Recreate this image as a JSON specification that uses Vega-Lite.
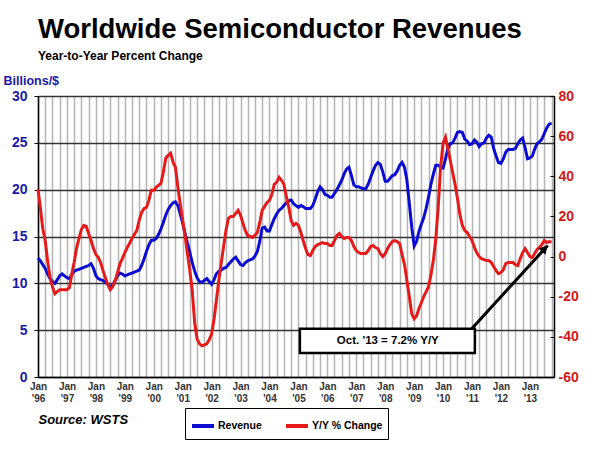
{
"$schema":"https://vega.github.io/schema/vega-lite/v6.json",
"width":516,"height":281,
"autosize":{"type":"none"},
"padding":{"left":38,"top":96,"right":46,"bottom":75},
"background":"white",
"config":{"font":"Liberation Sans","view":{"stroke":"black","strokeWidth":1}},
"title":{"text":"Worldwide Semiconductor Revenues","subtitle":"Year-to-Year Percent Change","anchor":"start","frame":"group","fontSize":27.5,"fontWeight":"bold","color":"black","subtitleFontSize":12,"subtitleFontWeight":"bold","subtitleColor":"black","subtitlePadding":8,"offset":12},
"datasets":{
"sales":[
{"d":"1996-01-01","rev":12.7,"yoy":33.5},{"d":"1996-02-01","rev":12.4,"yoy":24},{"d":"1996-03-01","rev":12.0,"yoy":14},{"d":"1996-04-01","rev":11.6,"yoy":8},{"d":"1996-05-01","rev":11.0,"yoy":-2},{"d":"1996-06-01","rev":10.5,"yoy":-10.5},{"d":"1996-07-01","rev":10.2,"yoy":-15},{"d":"1996-08-01","rev":10.0,"yoy":-18.5},{"d":"1996-09-01","rev":10.4,"yoy":-17.5},{"d":"1996-10-01","rev":10.8,"yoy":-16.5},{"d":"1996-11-01","rev":11.0,"yoy":-16.5},{"d":"1996-12-01","rev":10.8,"yoy":-16.5},
{"d":"1997-01-01","rev":10.6,"yoy":-16.5},{"d":"1997-02-01","rev":10.5,"yoy":-15.5},{"d":"1997-03-01","rev":10.9,"yoy":-9},{"d":"1997-04-01","rev":11.3,"yoy":-3},{"d":"1997-05-01","rev":11.4,"yoy":4},{"d":"1997-06-01","rev":11.5,"yoy":9},{"d":"1997-07-01","rev":11.6,"yoy":13.5},{"d":"1997-08-01","rev":11.7,"yoy":15.5},{"d":"1997-09-01","rev":11.8,"yoy":15},{"d":"1997-10-01","rev":11.9,"yoy":11.5},{"d":"1997-11-01","rev":12.1,"yoy":8},{"d":"1997-12-01","rev":11.6,"yoy":4},
{"d":"1998-01-01","rev":10.8,"yoy":1},{"d":"1998-02-01","rev":10.5,"yoy":-0.5},{"d":"1998-03-01","rev":10.4,"yoy":-3},{"d":"1998-04-01","rev":10.3,"yoy":-7},{"d":"1998-05-01","rev":10.1,"yoy":-10.5},{"d":"1998-06-01","rev":9.9,"yoy":-14},{"d":"1998-07-01","rev":9.6,"yoy":-16.5},{"d":"1998-08-01","rev":9.8,"yoy":-15},{"d":"1998-09-01","rev":10.3,"yoy":-12},{"d":"1998-10-01","rev":10.8,"yoy":-8},{"d":"1998-11-01","rev":11.1,"yoy":-3.5},{"d":"1998-12-01","rev":11.0,"yoy":-1},
{"d":"1999-01-01","rev":10.8,"yoy":2},{"d":"1999-02-01","rev":10.9,"yoy":4.5},{"d":"1999-03-01","rev":11.0,"yoy":6.5},{"d":"1999-04-01","rev":11.1,"yoy":9},{"d":"1999-05-01","rev":11.2,"yoy":11},{"d":"1999-06-01","rev":11.3,"yoy":13},{"d":"1999-07-01","rev":11.4,"yoy":18},{"d":"1999-08-01","rev":11.9,"yoy":22},{"d":"1999-09-01","rev":12.6,"yoy":24},{"d":"1999-10-01","rev":13.4,"yoy":24.5},{"d":"1999-11-01","rev":14.1,"yoy":28},{"d":"1999-12-01","rev":14.6,"yoy":33},
{"d":"2000-01-01","rev":14.6,"yoy":33},{"d":"2000-02-01","rev":14.8,"yoy":34.5},{"d":"2000-03-01","rev":15.2,"yoy":35.5},{"d":"2000-04-01","rev":15.8,"yoy":36.5},{"d":"2000-05-01","rev":16.5,"yoy":42},{"d":"2000-06-01","rev":17.3,"yoy":49},{"d":"2000-07-01","rev":17.9,"yoy":50.5},{"d":"2000-08-01","rev":18.3,"yoy":51.5},{"d":"2000-09-01","rev":18.6,"yoy":47},{"d":"2000-10-01","rev":18.7,"yoy":44.5},{"d":"2000-11-01","rev":18.3,"yoy":34.5},{"d":"2000-12-01","rev":17.4,"yoy":26},
{"d":"2001-01-01","rev":16.4,"yoy":18},{"d":"2001-02-01","rev":15.3,"yoy":10},{"d":"2001-03-01","rev":14.3,"yoy":1.5},{"d":"2001-04-01","rev":13.3,"yoy":-7},{"d":"2001-05-01","rev":12.2,"yoy":-17},{"d":"2001-06-01","rev":11.3,"yoy":-33},{"d":"2001-07-01","rev":10.6,"yoy":-41},{"d":"2001-08-01","rev":10.2,"yoy":-43.5},{"d":"2001-09-01","rev":10.1,"yoy":-44.5},{"d":"2001-10-01","rev":10.3,"yoy":-44},{"d":"2001-11-01","rev":10.5,"yoy":-43.5},{"d":"2001-12-01","rev":10.2,"yoy":-41.5},
{"d":"2002-01-01","rev":9.9,"yoy":-38.5},{"d":"2002-02-01","rev":10.4,"yoy":-31},{"d":"2002-03-01","rev":11.0,"yoy":-22},{"d":"2002-04-01","rev":11.3,"yoy":-12},{"d":"2002-05-01","rev":11.4,"yoy":-3.5},{"d":"2002-06-01","rev":11.6,"yoy":5},{"d":"2002-07-01","rev":11.7,"yoy":13},{"d":"2002-08-01","rev":12.0,"yoy":19},{"d":"2002-09-01","rev":12.3,"yoy":20},{"d":"2002-10-01","rev":12.6,"yoy":20},{"d":"2002-11-01","rev":12.8,"yoy":21.5},{"d":"2002-12-01","rev":12.4,"yoy":23},
{"d":"2003-01-01","rev":12.0,"yoy":20.5},{"d":"2003-02-01","rev":11.9,"yoy":16.5},{"d":"2003-03-01","rev":12.2,"yoy":13},{"d":"2003-04-01","rev":12.4,"yoy":10.5},{"d":"2003-05-01","rev":12.5,"yoy":10},{"d":"2003-06-01","rev":12.6,"yoy":9.5},{"d":"2003-07-01","rev":12.9,"yoy":10.5},{"d":"2003-08-01","rev":13.4,"yoy":12},{"d":"2003-09-01","rev":14.5,"yoy":17},{"d":"2003-10-01","rev":15.9,"yoy":23},{"d":"2003-11-01","rev":16.0,"yoy":25},{"d":"2003-12-01","rev":15.6,"yoy":27},
{"d":"2004-01-01","rev":15.6,"yoy":28},{"d":"2004-02-01","rev":16.3,"yoy":31},{"d":"2004-03-01","rev":16.9,"yoy":36},{"d":"2004-04-01","rev":17.4,"yoy":37},{"d":"2004-05-01","rev":17.8,"yoy":39.5},{"d":"2004-06-01","rev":18.0,"yoy":38},{"d":"2004-07-01","rev":18.3,"yoy":36},{"d":"2004-08-01","rev":18.6,"yoy":30},{"d":"2004-09-01","rev":18.8,"yoy":24.5},{"d":"2004-10-01","rev":18.9,"yoy":18},{"d":"2004-11-01","rev":18.5,"yoy":15.5},{"d":"2004-12-01","rev":18.3,"yoy":16.5},
{"d":"2005-01-01","rev":18.1,"yoy":15.5},{"d":"2005-02-01","rev":18.3,"yoy":12},{"d":"2005-03-01","rev":18.2,"yoy":8},{"d":"2005-04-01","rev":18.0,"yoy":4},{"d":"2005-05-01","rev":18.0,"yoy":1},{"d":"2005-06-01","rev":18.0,"yoy":0.5},{"d":"2005-07-01","rev":18.3,"yoy":3},{"d":"2005-08-01","rev":19.0,"yoy":5},{"d":"2005-09-01","rev":19.8,"yoy":6},{"d":"2005-10-01","rev":20.3,"yoy":6.5},{"d":"2005-11-01","rev":20.0,"yoy":7},{"d":"2005-12-01","rev":19.5,"yoy":6.5},
{"d":"2006-01-01","rev":19.4,"yoy":6.5},{"d":"2006-02-01","rev":19.2,"yoy":5.5},{"d":"2006-03-01","rev":19.2,"yoy":5.5},{"d":"2006-04-01","rev":19.6,"yoy":8},{"d":"2006-05-01","rev":20.0,"yoy":10.5},{"d":"2006-06-01","rev":20.5,"yoy":11.5},{"d":"2006-07-01","rev":21.0,"yoy":10},{"d":"2006-08-01","rev":21.7,"yoy":9},{"d":"2006-09-01","rev":22.2,"yoy":9.5},{"d":"2006-10-01","rev":22.4,"yoy":9.5},{"d":"2006-11-01","rev":21.5,"yoy":8},{"d":"2006-12-01","rev":20.5,"yoy":5},
{"d":"2007-01-01","rev":20.3,"yoy":3},{"d":"2007-02-01","rev":20.3,"yoy":2},{"d":"2007-03-01","rev":20.2,"yoy":1.5},{"d":"2007-04-01","rev":20.1,"yoy":1.5},{"d":"2007-05-01","rev":20.1,"yoy":1.5},{"d":"2007-06-01","rev":20.6,"yoy":3},{"d":"2007-07-01","rev":21.3,"yoy":5},{"d":"2007-08-01","rev":22.0,"yoy":5.5},{"d":"2007-09-01","rev":22.6,"yoy":4.5},{"d":"2007-10-01","rev":22.9,"yoy":4},{"d":"2007-11-01","rev":22.7,"yoy":1.5},{"d":"2007-12-01","rev":21.9,"yoy":0},
{"d":"2008-01-01","rev":20.9,"yoy":1.5},{"d":"2008-02-01","rev":20.9,"yoy":4},{"d":"2008-03-01","rev":21.2,"yoy":6},{"d":"2008-04-01","rev":21.5,"yoy":7.5},{"d":"2008-05-01","rev":21.6,"yoy":8},{"d":"2008-06-01","rev":22.0,"yoy":7.5},{"d":"2008-07-01","rev":22.6,"yoy":6.5},{"d":"2008-08-01","rev":22.9,"yoy":1},{"d":"2008-09-01","rev":22.4,"yoy":-4},{"d":"2008-10-01","rev":21.0,"yoy":-12},{"d":"2008-11-01","rev":18.5,"yoy":-20},{"d":"2008-12-01","rev":16.0,"yoy":-28.5},
{"d":"2009-01-01","rev":14.0,"yoy":-31},{"d":"2009-02-01","rev":14.5,"yoy":-29.5},{"d":"2009-03-01","rev":15.5,"yoy":-26},{"d":"2009-04-01","rev":16.3,"yoy":-23},{"d":"2009-05-01","rev":17.0,"yoy":-20},{"d":"2009-06-01","rev":18.0,"yoy":-17.5},{"d":"2009-07-01","rev":19.2,"yoy":-15},{"d":"2009-08-01","rev":20.6,"yoy":-9},{"d":"2009-09-01","rev":21.7,"yoy":-1.5},{"d":"2009-10-01","rev":22.6,"yoy":9},{"d":"2009-11-01","rev":22.6,"yoy":25},{"d":"2009-12-01","rev":22.4,"yoy":45},
{"d":"2010-01-01","rev":22.3,"yoy":56.5},{"d":"2010-02-01","rev":23.3,"yoy":59.5},{"d":"2010-03-01","rev":24.4,"yoy":54},{"d":"2010-04-01","rev":24.9,"yoy":48},{"d":"2010-05-01","rev":25.0,"yoy":42},{"d":"2010-06-01","rev":25.5,"yoy":36},{"d":"2010-07-01","rev":26.1,"yoy":29},{"d":"2010-08-01","rev":26.2,"yoy":21},{"d":"2010-09-01","rev":26.1,"yoy":15.5},{"d":"2010-10-01","rev":25.4,"yoy":13},{"d":"2010-11-01","rev":25.2,"yoy":12},{"d":"2010-12-01","rev":24.8,"yoy":10},
{"d":"2011-01-01","rev":24.9,"yoy":8},{"d":"2011-02-01","rev":25.3,"yoy":4.5},{"d":"2011-03-01","rev":25.1,"yoy":2},{"d":"2011-04-01","rev":24.6,"yoy":0},{"d":"2011-05-01","rev":24.9,"yoy":-1},{"d":"2011-06-01","rev":25.0,"yoy":-1.5},{"d":"2011-07-01","rev":25.5,"yoy":-2},{"d":"2011-08-01","rev":25.8,"yoy":-2},{"d":"2011-09-01","rev":25.6,"yoy":-3},{"d":"2011-10-01","rev":24.4,"yoy":-5},{"d":"2011-11-01","rev":23.6,"yoy":-7},{"d":"2011-12-01","rev":22.9,"yoy":-8.5},
{"d":"2012-01-01","rev":22.8,"yoy":-8},{"d":"2012-02-01","rev":23.3,"yoy":-6.5},{"d":"2012-03-01","rev":24.0,"yoy":-3.5},{"d":"2012-04-01","rev":24.3,"yoy":-3},{"d":"2012-05-01","rev":24.3,"yoy":-3},{"d":"2012-06-01","rev":24.3,"yoy":-3},{"d":"2012-07-01","rev":24.4,"yoy":-4},{"d":"2012-08-01","rev":24.9,"yoy":-4.5},{"d":"2012-09-01","rev":25.3,"yoy":-1},{"d":"2012-10-01","rev":25.5,"yoy":2},{"d":"2012-11-01","rev":24.5,"yoy":4},{"d":"2012-12-01","rev":23.3,"yoy":2},
{"d":"2013-01-01","rev":23.4,"yoy":0},{"d":"2013-02-01","rev":23.6,"yoy":-0.5},{"d":"2013-03-01","rev":24.3,"yoy":1.5},{"d":"2013-04-01","rev":24.9,"yoy":3.5},{"d":"2013-05-01","rev":25.1,"yoy":4.5},{"d":"2013-06-01","rev":25.4,"yoy":6},{"d":"2013-07-01","rev":26.0,"yoy":8},{"d":"2013-08-01","rev":26.6,"yoy":7},{"d":"2013-09-01","rev":27.0,"yoy":7.5},{"d":"2013-10-01","rev":27.1,"yoy":7.2}
],
"note":[{"x":"2005-01-19","x2":"2011-02-06","y":-36,"y2":-48,"tx":"2008-02-03","ty":-42,"label":"Oct. '13 = 7.2% Y/Y","ax":"2010-12-28","ay":-36,"bx":"2013-08-13","by":5.5,"hx":"2013-07-07","hy":4}]
},
"layer":[
{"data":{"name":"sales"},
 "mark":{"type":"line","strokeWidth":3},
 "encoding":{
  "x":{"field":"d","type":"temporal","scale":{"type":"utc","domain":[{"year":1996,"month":1,"date":1,"utc":true},{"year":2013,"month":11,"date":1,"utc":true}]},
   "axis":{"title":"Source: WSTS","titleFontStyle":"italic","titleFontWeight":"bold","titleFontSize":13,"titleAnchor":"start","titleAlign":"left","titlePadding":10,"titleColor":"black",
     "tickCount":{"interval":"month","step":3},"grid":true,"gridColor":"#b4b4b4","gridWidth":1.5,"ticks":false,"domainColor":"black","domainWidth":1.5,
     "labelExpr":"utcmonth(datum.value)==0 ? ['Jan', \"'\" + utcFormat(datum.value, '%y')] : ''",
     "labelFontSize":10,"labelFontWeight":"bold","labelColor":"#333333","labelOverlap":false,"labelPadding":4,"labelFlush":false,"labelBound":false,"labelLineHeight":12}},
  "y":{"field":"rev","type":"quantitative","scale":{"domain":[0,30]},
   "axis":{"title":"Billions/$","titleAngle":0,"titleX":-35,"titleY":-12,"titleAlign":"left","titleBaseline":"alphabetic","titleColor":"#1a1aa8","titleFontSize":12.5,"titleFontWeight":"bold",
     "values":[0,5,10,15,20,25,30],"grid":true,"gridColor":"#333333","gridWidth":1.3,"tickColor":"black","tickSize":4,"domainColor":"black","domainWidth":1.5,
     "labelColor":"#1a1aa8","labelFontSize":14,"labelFontWeight":"bold","labelPadding":7}},
  "color":{"datum":"Revenue","type":"nominal","scale":{"domain":["Revenue","Y/Y % Change"],"range":["#0c0cd0","#e51a1a"]},
   "legend":{"orient":"none","legendX":147,"legendY":312,"direction":"horizontal","title":null,"strokeColor":"black","fillColor":"white","padding":5,
     "symbolType":"stroke","symbolStrokeWidth":4,"symbolSize":484,"labelFontSize":10.5,"labelFontWeight":"bold","labelColor":"black","columnPadding":16,"labelOffset":2}}
 }},
{"layer":[
 {"data":{"name":"sales"},
  "mark":{"type":"line","strokeWidth":3},
  "encoding":{
   "x":{"field":"d","type":"temporal"},
   "y":{"field":"yoy","type":"quantitative","scale":{"domain":[-60,80]},
    "axis":{"orient":"right","title":null,"values":[-60,-40,-20,0,20,40,60,80],"grid":false,"tickSize":-4,"tickColor":"black","domainColor":"black","domainWidth":1.5,
      "labelExpr":"replace(datum.label, '\u2212', '-')",
      "labelColor":"#d01818","labelFontSize":14,"labelFontWeight":"bold","labelPadding":8}},
   "color":{"datum":"Y/Y % Change","type":"nominal"}
  }},
 {"data":{"name":"note"},
  "mark":{"type":"rect","fill":"white","stroke":"black","strokeWidth":2.5},
  "encoding":{"x":{"field":"x","type":"temporal"},"x2":{"field":"x2"},"y":{"field":"y","type":"quantitative"},"y2":{"field":"y2"}}},
 {"data":{"name":"note"},
  "mark":{"type":"text","fontSize":11.5,"fontWeight":"bold","color":"black","align":"center","baseline":"middle"},
  "encoding":{"x":{"field":"tx","type":"temporal"},"y":{"field":"ty","type":"quantitative"},"text":{"field":"label"}}},
 {"data":{"name":"note"},
  "mark":{"type":"rule","color":"black","strokeWidth":3},
  "encoding":{"x":{"field":"ax","type":"temporal"},"x2":{"field":"bx"},"y":{"field":"ay","type":"quantitative"},"y2":{"field":"by"}}},
 {"data":{"name":"note"},
  "mark":{"type":"point","shape":"triangle-up","filled":true,"color":"black","size":90,"angle":42,"opacity":1},
  "encoding":{"x":{"field":"hx","type":"temporal"},"y":{"field":"hy","type":"quantitative"}}}
]}
],
"resolve":{"scale":{"y":"independent"}}
}
